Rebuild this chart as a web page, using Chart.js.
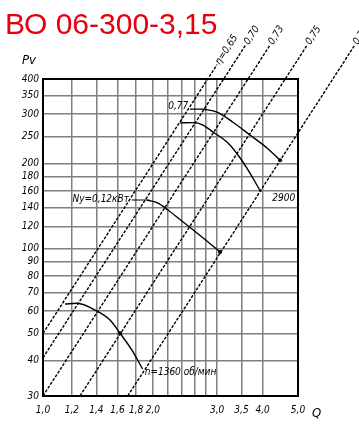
<!DOCTYPE html>
<html>
<head>
<meta charset="utf-8">
<script src="https://cdn.jsdelivr.net/npm/chart.js@4/dist/chart.umd.min.js"></script>
<style>
  body { margin: 0; background: #fff; }
  #wrap { position: relative; width: 359px; height: 430px; }
  #chart { position: absolute; left: 0; top: 0; }
  #title { position: absolute; left: 5px; top: 7px; font: 30px "Liberation Sans", Arial, sans-serif; color: #e3000f; line-height: normal; }
</style>
</head>
<body>
<div id="wrap">
  <canvas id="chart" width="359" height="430"></canvas>
  <div id="title">ВО 06-300-3,15</div>
</div>
<script>
// grid of the log axes
const qGrid = [1.0, 1.2, 1.4, 1.6, 1.8, 2.0, 2.2, 2.4, 2.6, 2.8, 3.0, 3.5, 4.0, 5.0];
const qLabels = ["1,0", "1,2", "1,4", "1,6", "1,8", "2,0", "", "", "", "", "3,0", "3,5", "4,0", "5,0"];
const pGrid = [30, 40, 50, 60, 70, 80, 90, 100, 120, 140, 160, 180, 200, 250, 300, 350, 400];
const pLabels = ["30", "40", "50", "60", "70", "80", "90", "100", "120", "140", "160", "180", "200", "250", "300", "350", "400"];

// fan curves, Q and Pv
const curveAQ = [1.149, 1.237, 1.403, 1.526, 1.626, 1.751, 1.875];
const curveAP = [63.6, 64.0, 60.1, 55.8, 50.1, 43.7, 37.4];
const curveBQ = [1.928, 2.067, 2.201, 2.374, 2.561, 2.781, 3.057];
const curveBP = [148.8, 145.2, 137.1, 126.9, 117.4, 107.8, 97.3];
const curveCQ = [2.374, 2.577, 2.746, 2.924, 3.194, 3.423, 3.693, 3.885, 3.96];
const curveCP = [279.5, 280, 274.6, 259.4, 239, 215, 185.5, 165.5, 158.9];
const curveDQ = [2.746, 3.0, 3.317, 3.693, 4.112, 4.465];
const curveDP = [312.9, 305, 281, 253, 227.6, 206];

// efficiency lines, start and end points
const etaNames = ["η=0,65", "0,70", "0,73", "0,75", "0,77"];
const etaQ = [[1.0, 3.0], [1.0, 3.6], [1.0, 4.2], [1.263, 5.31], [1.707, 7.17]];
const etaP = [[50, 450], [41, 530], [30, 530], [30, 530], [30, 530]];

const tickFont = { family: "'DejaVu Sans Condensed', 'DejaVu Sans', sans-serif", size: 10, style: "italic" };
const labelFont = "italic 10px 'DejaVu Sans Condensed', 'DejaVu Sans', sans-serif";

function pts(qs, ps) {
  return qs.map((q, i) => ({ x: q, y: ps[i] }));
}

function curve(qs, ps, dots) {
  return {
    data: pts(qs, ps),
    borderColor: "#000",
    borderWidth: 1.4,
    cubicInterpolationMode: "monotone",
    pointRadius: qs.map((q, i) => (dots.includes(i) ? 2 : 0)),
    pointBackgroundColor: "#000",
    pointBorderWidth: 0,
  };
}

const datasets = etaNames.map((n, i) => ({
  data: pts(etaQ[i], etaP[i]),
  borderColor: "#000",
  borderWidth: 1.4,
  borderDash: [3, 1.5],
  pointRadius: 0,
  clip: false,
}));
datasets.push(curve(curveAQ, curveAP, [4]));
datasets.push(curve(curveBQ, curveBP, [6]));
datasets.push(curve(curveCQ, curveCP, []));
datasets.push(curve(curveDQ, curveDP, [5]));

// frame, axis names and curve labels
const extras = {
  id: "extras",
  beforeDatasetsDraw(chart) {
    const { ctx, chartArea: a } = chart;
    ctx.save();
    ctx.strokeStyle = "#000";
    ctx.lineWidth = 2;
    ctx.strokeRect(a.left, a.top, a.right - a.left, a.bottom - a.top);
    ctx.restore();
  },
  afterDatasetsDraw(chart) {
    const { ctx } = chart;
    const x = chart.scales.x, y = chart.scales.y;
    ctx.save();
    ctx.fillStyle = "#000";
    ctx.strokeStyle = "#000";
    ctx.font = labelFont;

    // labels at the end of the efficiency lines
    etaNames.forEach((name, i) => {
      const x0 = x.getPixelForValue(etaQ[i][0]), y0 = y.getPixelForValue(etaP[i][0]);
      const x1 = x.getPixelForValue(etaQ[i][1]), y1 = y.getPixelForValue(etaP[i][1]);
      const ang = Math.atan2(y1 - y0, x1 - x0);
      ctx.save();
      ctx.translate(x1, y1);
      ctx.rotate(ang);
      ctx.textBaseline = "middle";
      ctx.textAlign = "left";
      ctx.fillText(name, 1, 0);
      ctx.restore();
    });

    // leaders to the curve starts
    ctx.lineWidth = 1.2;
    ctx.beginPath();
    ctx.moveTo(x.getPixelForValue(1.75), y.getPixelForValue(curveBP[0]));
    ctx.lineTo(x.getPixelForValue(curveBQ[0]), y.getPixelForValue(curveBP[0]));
    ctx.moveTo(x.getPixelForValue(2.53), y.getPixelForValue(curveDP[0]));
    ctx.lineTo(x.getPixelForValue(curveDQ[0]), y.getPixelForValue(curveDP[0]));
    ctx.stroke();

    ctx.textBaseline = "middle";
    ctx.textAlign = "right";
    ctx.fillText("Nу=0,12кВт", x.getPixelForValue(1.72), y.getPixelForValue(curveBP[0]) - 1);
    ctx.fillText("0,77", x.getPixelForValue(2.50), y.getPixelForValue(curveDP[0]) - 3);
    ctx.textAlign = "left";
    ctx.fillText("2900", x.getPixelForValue(4.25), y.getPixelForValue(151));
    ctx.fillText("n=1360 об/мин", x.getPixelForValue(1.90), y.getPixelForValue(36.5));

    // axis names
    ctx.font = "italic 13px 'DejaVu Sans Condensed', 'DejaVu Sans', sans-serif";
    ctx.textBaseline = "alphabetic";
    ctx.fillText("Pv", 22, 64);
    ctx.fillText("Q", 312, 417);
    ctx.restore();
  },
};

new Chart(document.getElementById("chart"), {
  type: "line",
  data: { datasets },
  options: {
    responsive: false,
    animation: false,
    layout: { padding: { top: 79, right: 61, bottom: 0, left: 0 } },
    plugins: { legend: { display: false }, tooltip: { enabled: false } },
    scales: {
      x: {
        type: "logarithmic",
        min: 1,
        max: 5,
        afterBuildTicks: (s) => { s.ticks = qGrid.map((v) => ({ value: v })); },
        afterFit: (s) => { s.height = 34; },
        ticks: {
          autoSkip: false,
          maxRotation: 0,
          padding: 8,
          color: "#000",
          font: tickFont,
          callback: (v, i) => qLabels[i],
        },
        grid: { color: "#808080", lineWidth: 1.5, drawTicks: false },
        border: { display: false },
      },
      y: {
        type: "logarithmic",
        min: 30,
        max: 400,
        afterBuildTicks: (s) => { s.ticks = pGrid.map((v) => ({ value: v })); },
        afterFit: (s) => { s.width = 43; },
        ticks: {
          autoSkip: false,
          padding: 4,
          color: "#000",
          font: tickFont,
          callback: (v, i) => pLabels[i],
        },
        grid: { color: "#808080", lineWidth: 1.5, drawTicks: false },
        border: { display: false },
      },
    },
  },
  plugins: [extras],
});
</script>
</body>
</html>
